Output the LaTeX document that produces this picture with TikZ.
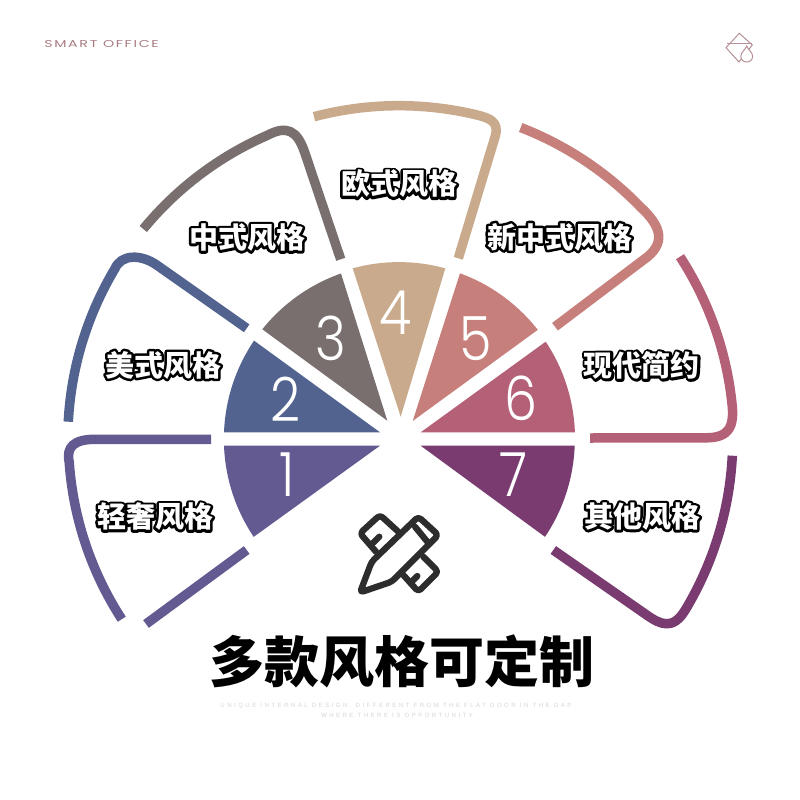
\documentclass[tikz,border=0pt]{standalone}
\usepackage{fontspec}
\setmainfont{Liberation Sans}
\newfontfamily\cjk{Noto Sans CJK SC}
\newfontfamily\numf{Poppins Light}
\newfontfamily\tinyf[LetterSpace=40]{Liberation Sans}
\newfontfamily\brandf[LetterSpace=12]{Poppins}
\definecolor{cA}{HTML}{625A90}
\definecolor{cB}{HTML}{52638F}
\definecolor{cC}{HTML}{786F6E}
\definecolor{cD}{HTML}{CAAA8C}
\definecolor{cE}{HTML}{C77F7C}
\definecolor{cF}{HTML}{B46077}
\definecolor{cG}{HTML}{793B70}
\definecolor{brand}{HTML}{A97C82}
\definecolor{iconink}{HTML}{2D2D2D}
\newcommand\outlined[1]{\leavevmode\rlap{\color{black}\special{pdf:code q 2 Tr 5 w 1 j 0 0 0 RG 0 0 0 rg}#1\special{pdf:code Q}}#1}
\tikzset{
  wedge/.style={fill=#1,draw=none},
  rim/.style={draw=#1,line width=9.5pt,line cap=butt,line join=round},
  digit/.style={text=white,font=\numf\fontsize{61}{61}\selectfont,inner sep=0pt,xscale=.86},
  stylelabel/.style={text=white,font=\cjk\bfseries\fontsize{29}{30}\selectfont,inner sep=0pt},
  tool/.style={draw=iconink,line width=6.3pt,line join=round,line cap=round,rounded corners=3.5pt},
  logoline/.style={draw=brand!85,line width=1pt,line join=miter}
}
\begin{document}
\begin{tikzpicture}[x=1pt,y=-1pt]
\useasboundingbox (0,0) rectangle (800,800);
\fill[white] (0,0) rectangle (800,800);
\coordinate (c) at (399.4,439);
% wedges
\fill[wedge=cA] (380,445.7) -- (224,445.7) arc[start angle=-182.2,end angle=-213.9,radius=175.5] -- cycle;
\fill[wedge=cB] (380,432.3) -- (224,432.3) arc[start angle=-177.8,end angle=-145.9,radius=175.5] -- cycle;
\fill[wedge=cC] (387.3,420.7) -- (262.3,329.3) arc[start angle=-141.3,end angle=-109.4,radius=175.5] -- cycle;
\fill[wedge=cD] (400.7,416.7) -- (352.7,268.3) arc[start angle=-105.3,end angle=-74.7,radius=175.5] -- cycle;
\fill[wedge=cE] (412.7,421) -- (460,273.3) arc[start angle=-69.9,end angle=-38.1,radius=175.5] -- cycle;
\fill[wedge=cF] (420.7,432.3) -- (545.7,341.7) arc[start angle=-33.6,end angle=-2.2,radius=175.5] -- (574.7,432.3) -- cycle;
\fill[wedge=cG] (420.7,445.7) -- (574.7,445.7) arc[start angle=2.2,end angle=33.9,radius=175.5] -- cycle;
% rims
\draw[rim=cA] (211,439.3) -- (95,439.3) .. controls (74,439.3) and (66,447) .. (69.2,462) arc[start angle=-184,end angle=-213,radius=331];
\draw[rim=cA] (146,624) -- (246.7,550);
\draw[rim=cB] (68.3,421.7) arc[start angle=-177,end angle=-149.2,radius=332] .. controls (121,254) and (140.7,254) .. (156.7,265) -- (246.7,328.3);
\draw[rim=cC] (143.3,229) arc[start angle=-140.6,end angle=-113.5,radius=332] .. controls (286,125.6) and (297,129) .. (305,153.3) -- (340.7,259.3);
\draw[rim=cD] (314,116.7) arc[start angle=-104.8,end angle=-76.6,radius=332.5] .. controls (488.7,118) and (500,121) .. (495,137) -- (458.3,258.3);
\draw[rim=cE] (520.7,127.5) arc[start angle=-68.8,end angle=-44,radius=335] .. controls (660,225) and (668,243) .. (643.3,260) -- (555,326.7);
\draw[rim=cF] (680,256.7) arc[start angle=-33,end angle=-6.15,radius=333.5] .. controls (735,428) and (728,437.5) .. (706.7,437.8) -- (590,438);
\draw[rim=cG] (732.3,455.7) arc[start angle=2.9,end angle=31.06,radius=332] .. controls (673,630) and (661,625) .. (646.7,615) -- (553.3,550);
% digits
\node[digit] (n1) at (287.3,475) {1};
\node[digit] (n2) at (285,399) {2};
\node[digit] (n3) at (330.7,338.3) {3};
\node[digit] (n4) at (396,312.7) {4};
\node[digit] (n5) at (475.7,338.3) {5};
\node[digit] (n6) at (520.7,398.3) {6};
\node[digit] (n7) at (513.3,475) {7};
% labels
\node[stylelabel] (l1) at (155,516.7) {\outlined{轻奢风格}};
\node[stylelabel] (l2) at (163,365) {\outlined{美式风格}};
\node[stylelabel] (l3) at (247,237.5) {\outlined{中式风格}};
\node[stylelabel] (l4) at (399,184) {\outlined{欧式风格}};
\node[stylelabel] (l5) at (559.5,237) {\outlined{新中式风格}};
\node[stylelabel] (l6) at (641.7,365.5) {\outlined{现代简约}};
\node[stylelabel] (l7) at (642,516.5) {\outlined{其他风格}};
% title
\node[inner sep=0pt,font=\cjk\bfseries\fontsize{55}{57}\selectfont] (title) at (401.5,661) {多款风格可定制};
\node[inner sep=0pt,text=black!16,font=\tinyf\fontsize{6.1}{6.5}\selectfont] (sub1) at (396,706) {UNIQUE INTERNAL DESIGN, DIFFERENT FROM THE FLAT DOOR IN THE GAP};
\node[inner sep=0pt,text=black!16,font=\tinyf\fontsize{6.1}{6.5}\selectfont] (sub2) at (397,715.5) {WHERE THERE IS OPPORTUNITY};
\node[inner sep=0pt,text=brand,font=\brandf\fontsize{10}{10}\selectfont,xscale=1.42] (brandname) at (101.5,44) {SMART OFFICE};
% pencil-ruler icon
\draw[tool] (398.3,531.7) -- (380,515) -- (360,533.3) -- (376,551.7);
\draw[tool] (423.3,556.7) -- (438.3,571.7) -- (418.3,591.7) -- (403.3,575);
\draw[tool] (379.3,536.7) -- (373.3,542.7);
\draw[tool] (417.3,576) -- (410.7,582.7);
\draw[tool] (371.7,561.7) -- (418.3,516.7) -- (438.3,535) -- (391.7,581.7) -- (360,592.5) -- cycle;
\draw[tool] (415,526.7) -- (427.3,541.7);
% logo
\draw[logoline] (739.3,33.3) -- (752.3,45) -- (739,62) -- (726,47.7) -- cycle;
\draw[logoline] (727,44) -- (752.3,44);
\draw[logoline,fill=white] (746.7,46) .. controls (748,50) and (752.6,52) .. (752.6,56.3) .. controls (752.6,59.8) and (750,62) .. (746.7,62) .. controls (743.4,62) and (740.8,59.8) .. (740.8,56.3) .. controls (740.8,52) and (745.4,50) .. (746.7,46) -- cycle;
\end{tikzpicture}
\end{document}
